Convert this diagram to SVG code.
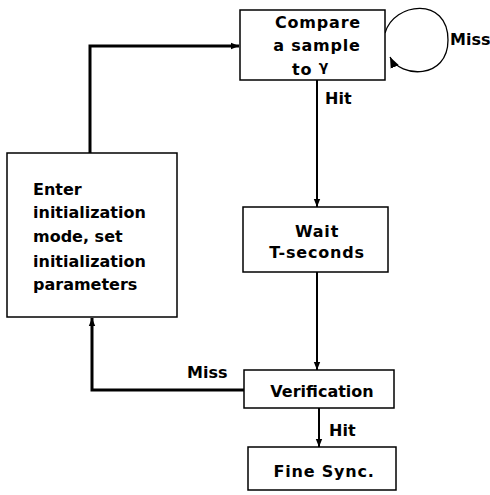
<svg xmlns="http://www.w3.org/2000/svg" width="490" height="495" viewBox="0 0 490 495">
<defs>
<style>
.box{fill:#fff;stroke:#000;stroke-width:1.5}
.t{font-family:"DejaVu Sans",sans-serif;font-weight:bold;font-size:16px;fill:#000}
.c{text-anchor:middle}
.sp{letter-spacing:0.8px}
.ln{fill:none;stroke:#000;stroke-width:2}
.thick{fill:none;stroke:#000;stroke-width:3}
.thin{fill:none;stroke:#000;stroke-width:1.3}
</style>
<marker id="ah" viewBox="0 0 10 10" refX="10" refY="5" markerWidth="8" markerHeight="8" markerUnits="userSpaceOnUse" orient="auto">
<path d="M0,1 L10,5 L0,9 z" fill="#000"/>
</marker>
<marker id="ah2" viewBox="0 0 10 10" refX="10" refY="5" markerWidth="11" markerHeight="11" markerUnits="userSpaceOnUse" orient="auto">
<path d="M0,1 L10,5 L0,9 z" fill="#000"/>
</marker>
</defs>
<rect width="490" height="495" fill="#fff"/>
<g id="connectors">
<path class="ln" d="M317,80 V207" marker-end="url(#ah)"/>
<path class="ln" d="M317,272 V370" marker-end="url(#ah)"/>
<path class="ln" d="M319,408 V447" marker-end="url(#ah)"/>
<path class="thick" d="M244,390 H92 V318" marker-end="url(#ah)"/>
<path class="thick" d="M90,153 V46 H239" marker-end="url(#ah)"/>
<path class="thin" d="M385,33 C394,2 448,-4 448,40 C448,80 400,78 390,57" marker-end="url(#ah2)"/>
<text class="t" x="325" y="104">Hit</text>
<text class="t" x="329" y="436">Hit</text>
<text class="t" x="187" y="378">Miss</text>
<text class="t" x="450" y="45">Miss</text>
</g>
<g id="compare">
<rect class="box" x="240" y="10" width="145" height="70"/>
<text class="t c sp" x="318" y="28">Compare</text>
<text class="t c sp" x="317" y="51">a sample</text>
<text class="t sp" x="292" y="75">to <tspan dy="-4" font-size="14">γ</tspan></text>
</g>
<g id="enter">
<rect class="box" x="7" y="153" width="170" height="164"/>
<text class="t" x="33" y="195">Enter</text>
<text class="t" x="33" y="218">initialization</text>
<text class="t" x="33" y="242">mode, set</text>
<text class="t" x="33" y="267">initialization</text>
<text class="t" x="33" y="290">parameters</text>
</g>
<g id="wait">
<rect class="box" x="243" y="207" width="145" height="65"/>
<text class="t c sp" x="317" y="237">Wait</text>
<text class="t c sp" x="317" y="258">T-seconds</text>
</g>
<g id="verification">
<rect class="box" x="244" y="370" width="150" height="38"/>
<text class="t c" x="322" y="397">Verification</text>
</g>
<g id="finesync">
<rect class="box" x="248" y="447" width="148" height="43"/>
<text class="t c sp" x="324" y="477">Fine Sync.</text>
</g>
</svg>
